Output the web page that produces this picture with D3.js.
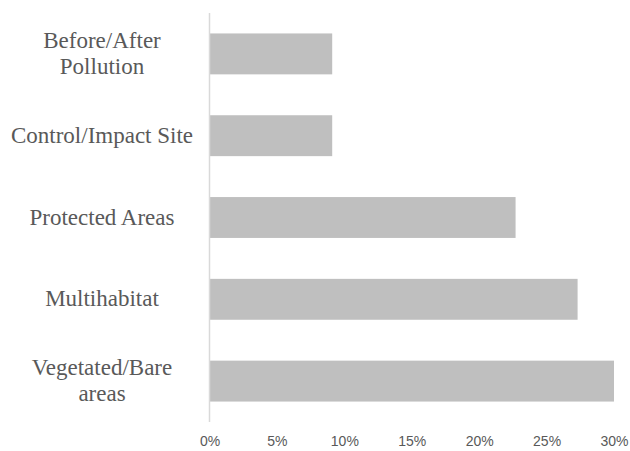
<!DOCTYPE html>
<html>
<head>
<meta charset="utf-8">
<script src="https://cdn.jsdelivr.net/npm/d3@7"></script>
<style>
  html, body { margin: 0; padding: 0; background: #fff; }
  svg { display: block; }
</style>
</head>
<body>
<svg id="chart" width="630" height="451"></svg>
<script>
// Share of studies by comparison design (percent)
const categories = [
  ["Before/After", "Pollution"],
  ["Control/Impact Site"],
  ["Protected Areas"],
  ["Multihabitat"],
  ["Vegetated/Bare", "areas"]
];
const values = [9.1, 9.1, 22.7, 27.3, 30.0];
const tickValues = [0, 5, 10, 15, 20, 25, 30];

const svg = d3.select("#chart");
const keys = categories.map(c => c.join(" "));

const x = d3.scaleLinear().domain([0, 30]).range([209.5, 614]);
const y = d3.scaleBand().domain(keys).range([13, 422])
  .paddingInner(0.5).paddingOuter(0.25);

// Bars
svg.append("g").selectAll("rect")
  .data(values)
  .join("rect")
  .attr("x", x(0))
  .attr("y", (d, i) => y(keys[i]))
  .attr("width", d => x(d) - x(0))
  .attr("height", y.bandwidth())
  .attr("fill", "#bfbfbf");

// Vertical category axis line
const yAxis = svg.append("g")
  .attr("transform", `translate(${x(0)},0)`)
  .call(d3.axisLeft(y).tickSize(0).tickFormat(""));
yAxis.select(".domain").attr("stroke", "#d9d9d9").attr("stroke-width", 1.5)
  .attr("d", `M0,13V422`);

// Category labels (multi-line, centred)
const lineH = 26;
const labels = svg.append("g")
  .attr("font-family", "'Liberation Serif', 'Times New Roman', serif")
  .attr("font-size", 23)
  .attr("fill", "#595959")
  .attr("text-anchor", "middle");
categories.forEach((lines, i) => {
  const cy = y(keys[i]) + y.bandwidth() / 2;
  const first = cy + 8 - (lines.length - 1) * lineH / 2 - 1;
  const t = labels.append("text").attr("x", 102);
  lines.forEach((ln, j) => {
    t.append("tspan").attr("x", 102).attr("y", first + j * lineH).text(ln);
  });
});

// Value axis
const xAxis = svg.append("g")
  .attr("transform", "translate(0,436)")
  .call(d3.axisBottom(x).tickValues(tickValues).tickSize(0)
    .tickFormat(d => d + "%"));
xAxis.select(".domain").remove();
xAxis.selectAll("text")
  .attr("font-family", "'Liberation Sans', Arial, sans-serif")
  .attr("font-size", 14)
  .attr("fill", "#595959")
  .attr("dy", "0.71em")
  .attr("y", 0);
</script>
</body>
</html>
